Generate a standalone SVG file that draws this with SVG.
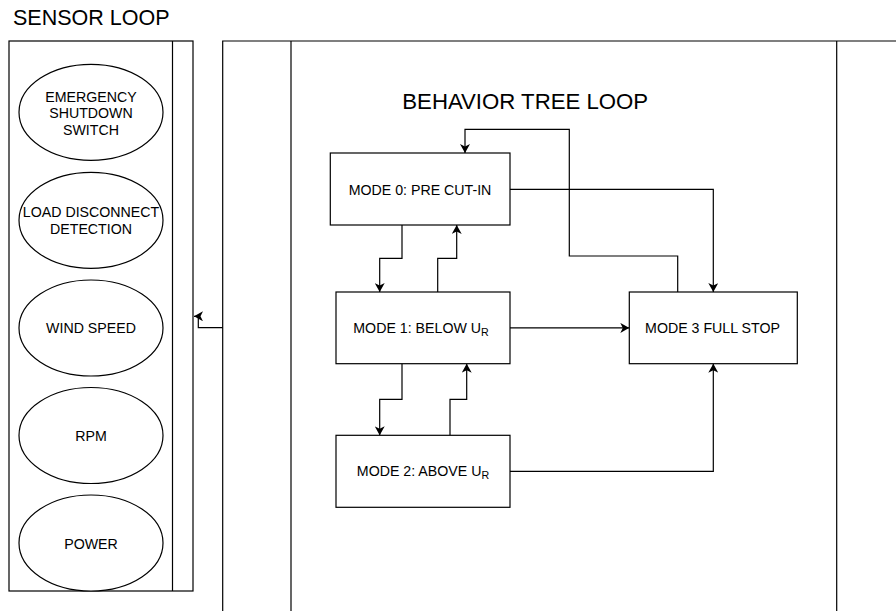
<svg xmlns="http://www.w3.org/2000/svg" width="896" height="611" viewBox="0 0 896 611">
<style>
text{font-family:"Liberation Sans",Arial,sans-serif;fill:#000}
.t{font-size:14.2px;text-anchor:middle}
.title{font-size:21.5px}
.s{fill:#fff;stroke:#000;stroke-width:1.2}
.c{fill:none;stroke:#000;stroke-width:1.2}
.sub{font-size:10.7px}
</style>
<defs>
<marker id="a" viewBox="0 0 9 10" refX="9" refY="5" markerWidth="9" markerHeight="10" markerUnits="userSpaceOnUse" orient="auto">
<path d="M0,0 L9,5 L0,10 L2.5,5 Z" fill="#000"/>
</marker>
</defs>
<rect width="896" height="611" fill="#fff"/>
<g id="sensor-loop">
<text class="title" x="13" y="25">SENSOR LOOP</text>
<rect class="s" x="9" y="41" width="184" height="550"/>
<line class="c" x1="172.5" y1="41" x2="172.5" y2="591"/>
</g>
<g id="behavior-loop">
<path class="c" d="M222.7,611 V41 H896"/>
<line class="c" x1="291" y1="41" x2="291" y2="611"/>
<line class="c" x1="836.7" y1="41" x2="836.7" y2="611"/>
<text class="title" x="402.3" y="109.3" style="font-size:22.2px">BEHAVIOR TREE LOOP</text>
</g>
<g id="emergency">
<ellipse class="s" cx="91" cy="112.3" rx="72" ry="48"/>
<text class="t" x="91" y="101.7">EMERGENCY</text>
<text class="t" x="91" y="118.3">SHUTDOWN</text>
<text class="t" x="91" y="135">SWITCH</text>
</g>
<g id="load">
<ellipse class="s" cx="91" cy="220.3" rx="72" ry="48"/>
<text class="t" x="91" y="217.3">LOAD DISCONNECT</text>
<text class="t" x="91" y="234">DETECTION</text>
</g>
<g id="wind">
<ellipse class="s" cx="91" cy="328" rx="72" ry="48"/>
<text class="t" x="91" y="333.3">WIND SPEED</text>
</g>
<g id="rpm">
<ellipse class="s" cx="91" cy="435.5" rx="72" ry="48"/>
<text class="t" x="91" y="441">RPM</text>
</g>
<g id="power">
<ellipse class="s" cx="91" cy="543" rx="72" ry="48"/>
<text class="t" x="91" y="549.3">POWER</text>
</g>
<g id="connectors">
<path class="c" d="M222.7,327.7 H198.3 V316.3 H194" marker-end="url(#a)"/>
<path class="c" d="M510,189.3 H713.3 V292" marker-end="url(#a)"/>
<path class="c" d="M677.7,292 V256 H569.3 V129.3 H465 V153" marker-end="url(#a)"/>
<path class="c" d="M402,225 V258.3 H379.7 V292" marker-end="url(#a)"/>
<path class="c" d="M437.7,292 V258.3 H456.7 V225" marker-end="url(#a)"/>
<path class="c" d="M402,363.7 V399.3 H379.7 V435.3" marker-end="url(#a)"/>
<path class="c" d="M450,435.3 V399.3 H466.7 V363.7" marker-end="url(#a)"/>
<path class="c" d="M510,327.9 H629.3" marker-end="url(#a)"/>
<path class="c" d="M510,471.3 H713.3 V363.7" marker-end="url(#a)"/>
</g>
<g id="mode0">
<rect class="s" x="330.3" y="153" width="179.7" height="72"/>
<text class="t" x="420" y="195">MODE 0: PRE CUT-IN</text>
</g>
<g id="mode1">
<rect class="s" x="336" y="292" width="174" height="71.7"/>
<text class="t" x="421" y="332.7">MODE 1: BELOW U<tspan class="sub" dy="3.4">R</tspan></text>
</g>
<g id="mode2">
<rect class="s" x="336" y="435.3" width="174" height="72"/>
<text class="t" x="423" y="476">MODE 2: ABOVE U<tspan class="sub" dy="3.4">R</tspan></text>
</g>
<g id="mode3">
<rect class="s" x="629.3" y="292" width="168" height="71.7"/>
<text class="t" x="712.5" y="333.3">MODE 3 FULL STOP</text>
</g>
</svg>
